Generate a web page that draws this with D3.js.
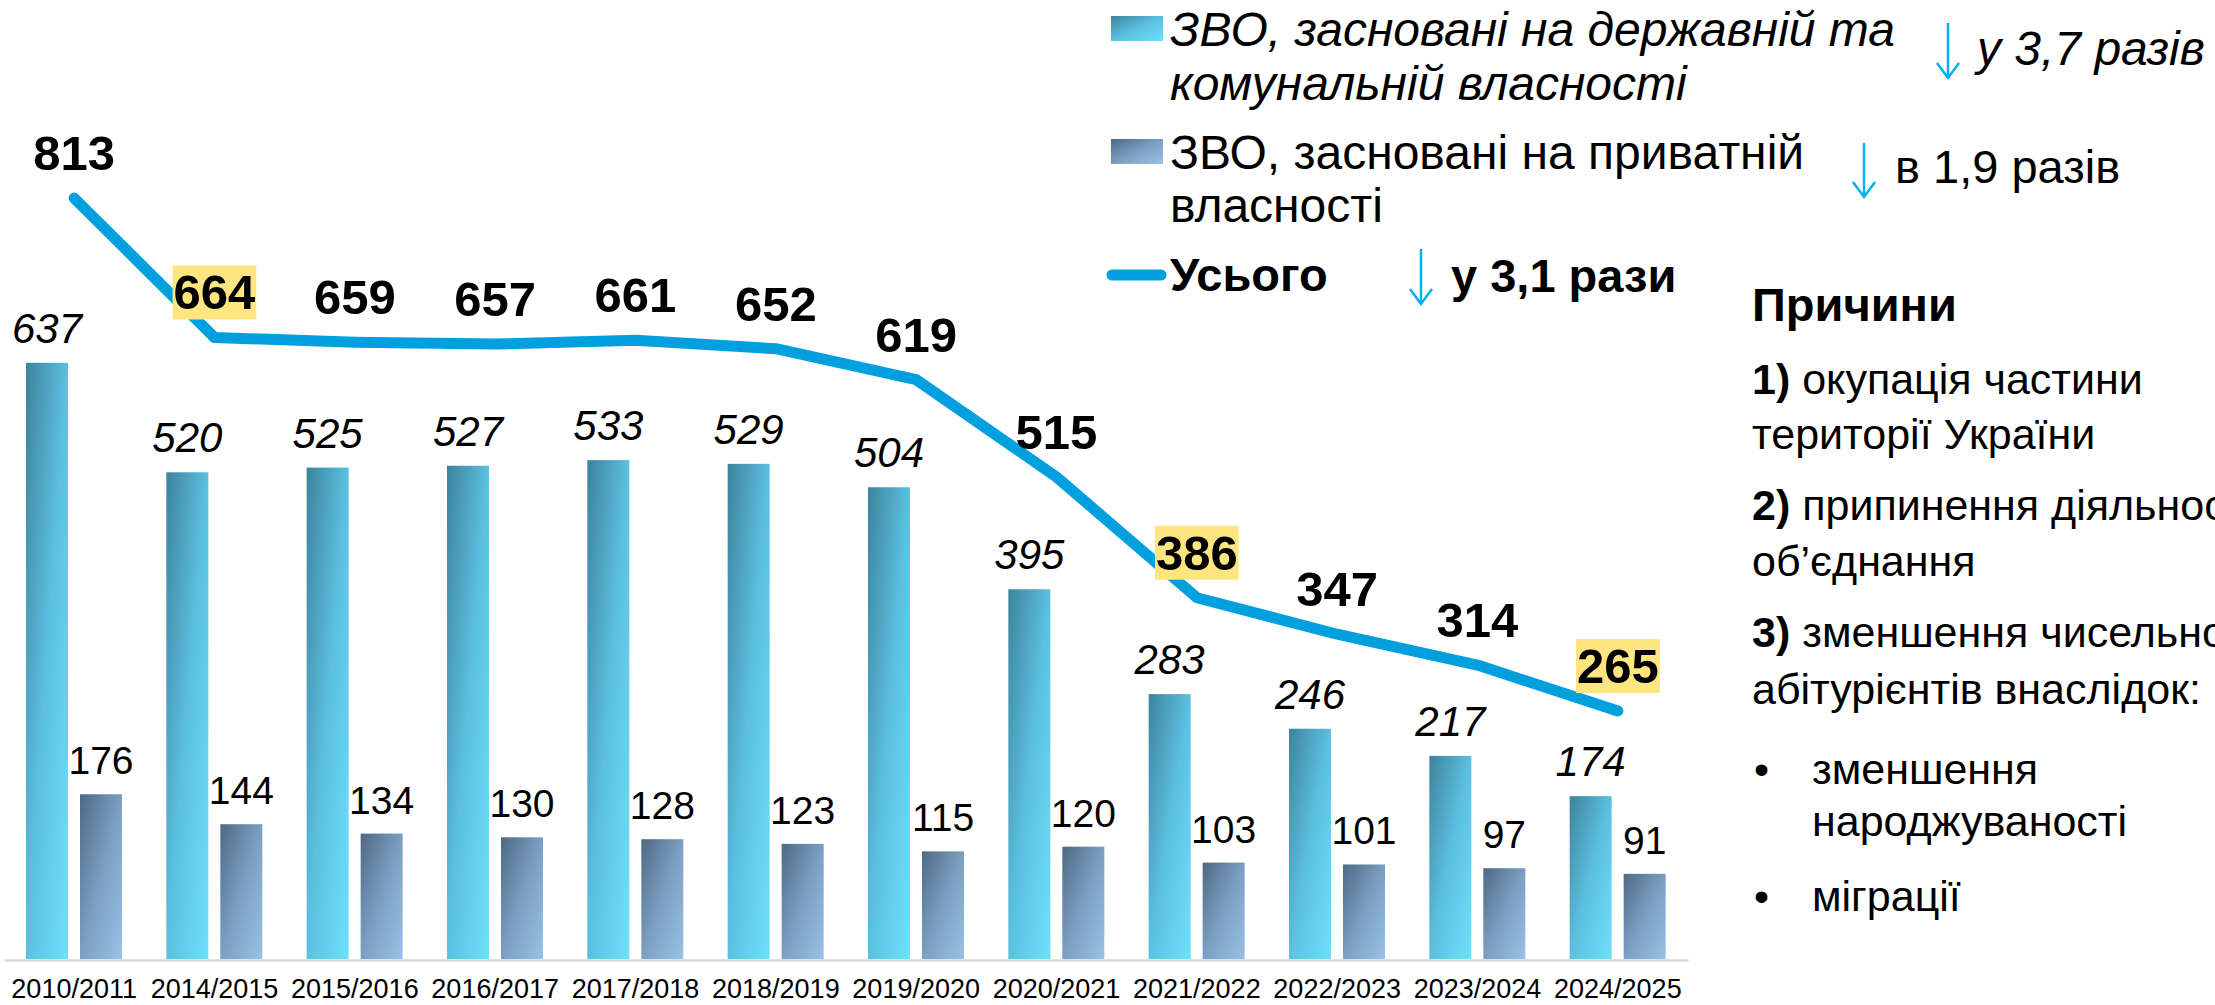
<!DOCTYPE html>
<html>
<head>
<meta charset="utf-8">
<script src="https://cdn.jsdelivr.net/npm/d3@7"></script>
<style>
  html, body { margin: 0; padding: 0; background: #ffffff; overflow: hidden; }
  svg { display: block; }
  text { font-family: "Liberation Sans", Arial, sans-serif; fill: #000; }
</style>
</head>
<body>
<svg id="chart" width="2215" height="1005"></svg>
<script>
// ---------------- DATA ----------------
const categories = ["2010/2011","2014/2015","2015/2016","2016/2017","2017/2018","2018/2019","2019/2020","2020/2021","2021/2022","2022/2023","2023/2024","2024/2025"];
const stateValues   = [637, 520, 525, 527, 533, 529, 504, 395, 283, 246, 217, 174];
const privateValues = [176, 144, 134, 130, 128, 123, 115, 120, 103, 101, 97, 91];
const totalValues   = [813, 664, 659, 657, 661, 652, 619, 515, 386, 347, 314, 265];
const highlighted   = ["2014/2015", "2021/2022", "2024/2025"];

const legendState   = ["ЗВО, засновані на державній та", "комунальній власності"];
const legendPrivate = ["ЗВО, засновані на приватній", "власності"];
const legendTotal   = "Усього";
const changeState   = "у 3,7 разів";
const changePrivate = "в 1,9 разів";
const changeTotal   = "у 3,1 рази";

const reasonsTitle = "Причини";
const reasons = [
  { num: "1)", lines: ["окупація частини", "території України"] },
  { num: "2)", lines: ["припинення діяльності", "об’єднання"] },
  { num: "3)", lines: ["зменшення чисельності", "абітурієнтів внаслідок:"] }
];
const bullets = [["зменшення", "народжуваності"], ["міграції"]];

// ---------------- SETUP ----------------
const svg = d3.select("#chart");
const defs = svg.append("defs");

function diagGradient(id, c0, c1, c2) {
  const g = defs.append("linearGradient").attr("id", id)
    .attr("x1", 0).attr("y1", 0).attr("x2", 1).attr("y2", 1);
  g.append("stop").attr("offset", "0%").attr("stop-color", c0);
  g.append("stop").attr("offset", "50%").attr("stop-color", c1);
  g.append("stop").attr("offset", "100%").attr("stop-color", c2);
}
diagGradient("gState", "#3d839c", "#5cc0e0", "#6fe0fa");
diagGradient("gPrivate", "#4e6983", "#7b9fc2", "#99c2e6");

const lineColor = "#00a0df";
const arrowColor = "#00b0f0";

const x = d3.scaleBand().domain(categories).range([4, 1688]).paddingInner(0).paddingOuter(0);
const xs = d3.scaleBand().domain(["state", "private"]).range([22, 118]).paddingInner(0.2222);
const y = d3.scaleLinear().domain([0, 1000]).range([959, 23]);

const rows = categories.map((c, i) => ({ cat: c, state: stateValues[i], priv: privateValues[i], total: totalValues[i] }));

// ---------------- AXIS ----------------
const axis = svg.append("g").attr("transform", `translate(0,${y(0) + 1})`)
  .call(d3.axisBottom(x).tickSize(0).tickPadding(19));
axis.select(".domain").attr("stroke", "#d9d9d9").attr("stroke-width", 2.5);
axis.selectAll(".tick text")
  .style("font-family", "'Liberation Sans', Arial, sans-serif")
  .attr("font-size", 27).attr("fill", "#000");

// ---------------- BARS ----------------
const groups = svg.append("g").selectAll("g").data(rows).join("g")
  .attr("transform", d => `translate(${x(d.cat)},0)`);

groups.append("rect")
  .attr("x", xs("state")).attr("width", xs.bandwidth())
  .attr("y", d => y(d.state)).attr("height", d => y(0) - y(d.state))
  .attr("fill", "url(#gState)");

groups.append("rect")
  .attr("x", xs("private")).attr("width", xs.bandwidth())
  .attr("y", d => y(d.priv)).attr("height", d => y(0) - y(d.priv))
  .attr("fill", "url(#gPrivate)");

groups.append("text")
  .attr("x", xs("state") + xs.bandwidth() / 2).attr("y", d => y(d.state) - 20)
  .attr("text-anchor", "middle").attr("font-size", 42).attr("font-style", "italic")
  .text(d => d.state);

groups.append("text")
  .attr("x", xs("private") + xs.bandwidth() / 2).attr("y", d => y(d.priv) - 20)
  .attr("text-anchor", "middle").attr("font-size", 39)
  .text(d => d.priv);

// ---------------- LINE ----------------
const cx = d => x(d.cat) + x.bandwidth() / 2;
svg.append("path").datum(rows)
  .attr("d", d3.line().x(cx).y(d => y(d.total)))
  .attr("fill", "none").attr("stroke", lineColor).attr("stroke-width", 11)
  .attr("stroke-linecap", "round").attr("stroke-linejoin", "round");

const tl = svg.append("g").selectAll("g").data(rows).join("g");
tl.each(function (d) {
  const g = d3.select(this);
  const t = g.append("text")
    .attr("x", cx(d)).attr("y", y(d.total) - 28)
    .attr("text-anchor", "middle").attr("font-size", 49).attr("font-weight", "bold")
    .text(d.total);
  if (highlighted.includes(d.cat)) {
    const b = t.node().getBBox();
    g.insert("rect", "text")
      .attr("x", b.x - 1).attr("y", b.y).attr("width", b.width + 2).attr("height", b.height)
      .attr("fill", "#ffe57f");
  }
});

// ---------------- LEGEND ----------------
const lg = svg.append("g");
const lfs = 48;
function multiline(g, xx, baselines, lines, size, style, weight) {
  lines.forEach((l, i) => {
    g.append("text").attr("x", xx).attr("y", baselines[i])
      .attr("font-size", size).attr("font-style", style || "normal")
      .attr("font-weight", weight || "normal").text(l);
  });
}
lg.append("rect").attr("x", 1111).attr("y", 16).attr("width", 52).attr("height", 25).attr("fill", "url(#gState)");
multiline(lg, 1170, [46, 100], legendState, lfs, "italic");
lg.append("rect").attr("x", 1111).attr("y", 139).attr("width", 52).attr("height", 25).attr("fill", "url(#gPrivate)");
multiline(lg, 1170, [169, 222], legendPrivate, lfs);
lg.append("line").attr("x1", 1112).attr("x2", 1161).attr("y1", 275).attr("y2", 275)
  .attr("stroke", lineColor).attr("stroke-width", 11).attr("stroke-linecap", "round");
lg.append("text").attr("x", 1170).attr("y", 291).attr("font-size", 47).attr("font-weight", "bold").text(legendTotal);

function arrow(xx, y1, y2) {
  lg.append("line").attr("x1", xx).attr("x2", xx).attr("y1", y1).attr("y2", y2)
    .attr("stroke", arrowColor).attr("stroke-width", 2.5);
  lg.append("path").attr("d", `M${xx - 11},${y2 - 15}L${xx},${y2}L${xx + 11},${y2 - 15}`)
    .attr("fill", "none").attr("stroke", arrowColor).attr("stroke-width", 2.5);
}
arrow(1948, 23, 78);
lg.append("text").attr("x", 1977).attr("y", 65).attr("font-size", lfs).attr("font-style", "italic").text(changeState);
arrow(1864, 143, 197);
lg.append("text").attr("x", 1895).attr("y", 183).attr("font-size", 47).text(changePrivate);
arrow(1421, 249, 304);
lg.append("text").attr("x", 1451).attr("y", 292).attr("font-size", 47).attr("font-weight", "bold").text(changeTotal);

// ---------------- REASONS ----------------
const rg = svg.append("g");
const rx = 1752, fs = 43;
rg.append("text").attr("x", rx).attr("y", 321).attr("font-size", 47).attr("font-weight", "bold").text(reasonsTitle);
const reasonBase = [[394, 449], [520, 576], [647, 704]];
reasons.forEach((r, i) => {
  const t = rg.append("text").attr("x", rx).attr("y", reasonBase[i][0]).attr("font-size", fs);
  t.append("tspan").attr("font-weight", "bold").text(r.num + " ");
  t.append("tspan").text(r.lines[0]);
  rg.append("text").attr("x", rx).attr("y", reasonBase[i][1]).attr("font-size", fs).text(r.lines[1]);
});
const bulletBase = [[784, 836], [911]];
bullets.forEach((b, i) => {
  rg.append("text").attr("x", 1754).attr("y", bulletBase[i][0]).attr("font-size", fs).text("•");
  b.forEach((l, j) => {
    rg.append("text").attr("x", 1812).attr("y", bulletBase[i][j]).attr("font-size", fs).text(l);
  });
});
</script>
</body>
</html>
